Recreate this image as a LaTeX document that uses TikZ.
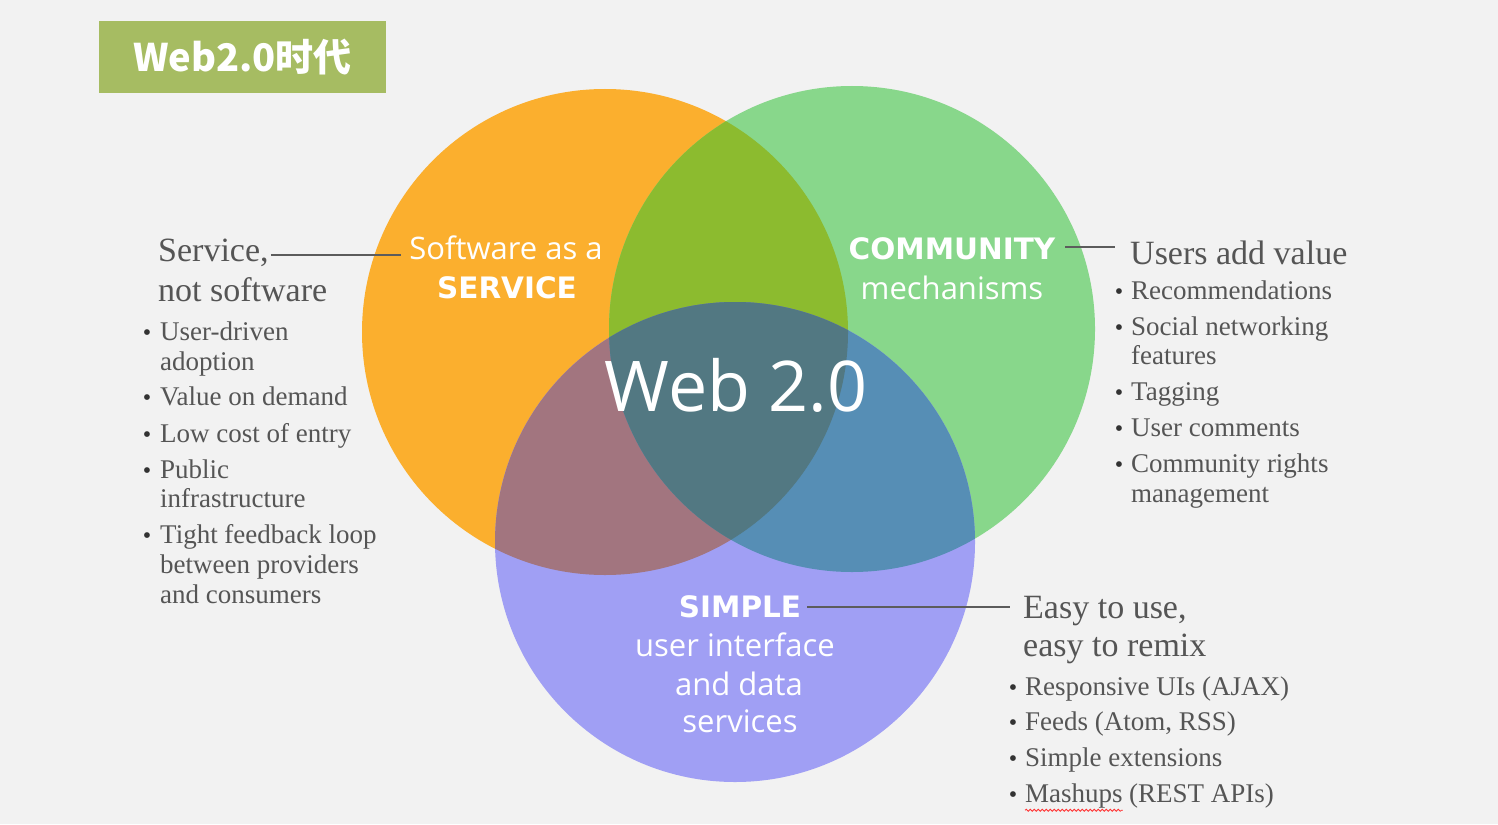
\documentclass[tikz,border=0pt]{standalone}
\usepackage{fontspec}
\setmainfont{Liberation Serif}
\newfontfamily\osans{Open Sans}
\newfontfamily\dsans{DejaVu Sans}
\newfontfamily\cjk{Noto Sans CJK SC}
\usetikzlibrary{decorations.pathmorphing}
\definecolor{bg}{HTML}{F2F2F2}
\definecolor{titlegreen}{HTML}{A6BC62}
\definecolor{corange}{HTML}{FBAF2E}
\definecolor{cgreen}{HTML}{88D78B}
\definecolor{cpurple}{HTML}{A09FF4}
\definecolor{cog}{HTML}{8CBB2F}
\definecolor{cop}{HTML}{A2757F}
\definecolor{cgp}{HTML}{568EB5}
\definecolor{cogp}{HTML}{527882}
\definecolor{txtgray}{HTML}{555555}
\definecolor{bulgray}{HTML}{333333}
\definecolor{linegray}{HTML}{5C5C5C}
\begin{document}
\begin{tikzpicture}[x=1pt,y=-1pt,
  sidehead/.style={anchor=west,inner sep=0pt,text=txtgray,font=\fontsize{34}{34}\selectfont,text height=23pt,text depth=7pt,yshift=-3pt},
  sideitem/.style={anchor=west,inner sep=0pt,text=txtgray,font=\fontsize{27}{27}\selectfont,text height=18pt,text depth=6pt,yshift=-3pt},
  bul/.style={inner sep=0pt,text=bulgray,font=\fontsize{24}{24}\selectfont,yshift=-4pt},
  circreg/.style={inner sep=0pt,text=white,font=\osans\fontsize{31}{31}\selectfont,text height=22pt,text depth=6pt,yshift=-3pt},
  circbold/.style={inner sep=0pt,text=white,font=\dsans\bfseries\fontsize{29.5}{29.5}\selectfont,text height=21pt,text depth=0pt,yshift=-1pt},
  conn/.style={draw=linegray,line width=2pt}]
\useasboundingbox (0,0) rectangle (1498,824);
\fill[bg] (0,0) rectangle (1498,824);

% title
\node[fill=titlegreen,minimum width=287pt,minimum height=72pt,inner sep=0pt,
  text=white,font=\cjk\bfseries\fontsize{38}{38}\selectfont] (title) at (242.5,57.5) {Web2.0时代};

% circles
\coordinate (O) at (605,332);
\coordinate (G) at (852,329);
\coordinate (P) at (735,542);
\fill[corange] (O) circle[radius=243pt];
\fill[cgreen] (G) circle[radius=243pt];
\fill[cpurple] (P) circle[radius=240pt];
\begin{scope}
  \clip (O) circle[radius=243pt];
  \fill[cog] (G) circle[radius=243pt];
  \fill[cop] (P) circle[radius=240pt];
\end{scope}
\begin{scope}
  \clip (G) circle[radius=243pt];
  \fill[cgp] (P) circle[radius=240pt];
\end{scope}
\begin{scope}
  \clip (O) circle[radius=243pt];
  \clip (G) circle[radius=243pt];
  \fill[cogp] (P) circle[radius=240pt];
\end{scope}

% circle labels
\node[circreg] (saas) at (506,248) {Software as a};
\node[circbold] (service) at (507,287) {SERVICE};
\node[circbold] (comm) at (952,248) {COMMUNITY};
\node[circreg] (mech) at (952,288) {mechanisms};
\node[inner sep=0pt,text=white,font=\osans\fontsize{70}{70}\selectfont] (web) at (736,385) {Web 2.0};
\node[circbold] (simple) at (740,606) {SIMPLE};
\node[circreg] (ui) at (735,645) {user interface};
\node[circreg] (data) at (739,684) {and data};
\node[circreg] (svcs) at (740,721) {services};

% left text
\node[sidehead] (serv) at (158,250) {Service,};
\node[sidehead] (notsw) at (158,290) {not software};
\node[bul] (lb1) at (147,331) {•};
\node[sideitem] (l1) at (160,331) {User-driven};
\node[sideitem] (l1b) at (160,361) {adoption};
\node[bul] (lb2) at (147,396) {•};
\node[sideitem] (l2) at (160,396) {Value on demand};
\node[bul] (lb3) at (147,433) {•};
\node[sideitem] (l3) at (160,433) {Low cost of entry};
\node[bul] (lb4) at (147,469) {•};
\node[sideitem] (l4) at (160,469) {Public};
\node[sideitem] (l4b) at (160,498) {infrastructure};
\node[bul] (lb5) at (147,534) {•};
\node[sideitem] (l5) at (160,534) {Tight feedback loop};
\node[sideitem] (l5b) at (160,564) {between providers};
\node[sideitem] (l5c) at (160,594) {and consumers};

% right text
\node[sidehead] (users) at (1130,253) {Users add value};
\node[bul] (rb1) at (1119,290) {•};
\node[sideitem] (r1) at (1131,290) {Recommendations};
\node[bul] (rb2) at (1119,326) {•};
\node[sideitem] (r2) at (1131,326) {Social networking};
\node[sideitem] (r2b) at (1131,355) {features};
\node[bul] (rb3) at (1119,391) {•};
\node[sideitem] (r3) at (1131,391) {Tagging};
\node[bul] (rb4) at (1119,427) {•};
\node[sideitem] (r4) at (1131,427) {User comments};
\node[bul] (rb5) at (1119,463) {•};
\node[sideitem] (r5) at (1131,463) {Community rights};
\node[sideitem] (r5b) at (1131,493) {management};

% bottom right text
\node[sidehead] (easy) at (1023,607) {Easy to use,};
\node[sidehead] (remix) at (1023,645) {easy to remix};
\node[bul] (bb1) at (1013,686) {•};
\node[sideitem] (s1) at (1025,686) {Responsive UIs (AJAX)};
\node[bul] (bb2) at (1013,721) {•};
\node[sideitem] (s2) at (1025,721) {Feeds (Atom, RSS)};
\node[bul] (bb3) at (1013,757) {•};
\node[sideitem] (s3) at (1025,757) {Simple extensions};
\node[bul] (bb4) at (1013,793) {•};
\node[sideitem] (s4) at (1025,793) {Mashups};
\node[sideitem,anchor=base west,yshift=3pt] (s4b) at ([xshift=6pt]s4.base east) {(REST APIs)};
\draw[red!80,line width=0.8pt,decorate,decoration={snake,amplitude=1pt,segment length=4pt}]
  ([yshift=-2pt]s4.south west) -- ([yshift=-2pt]s4.south east);

% connectors
\draw[conn,shorten <=2pt,shorten >=8pt] ([yshift=-2pt]serv.east) -- ([yshift=-2pt]serv.east -| saas.west);
\draw[conn,shorten <=10pt,shorten >=15pt] ([yshift=2pt]comm.east) -- ([yshift=2pt]comm.east -| users.west);
\draw[conn,shorten <=6pt,shorten >=13pt] (simple.east) -- (simple.east -| easy.west);
\end{tikzpicture}
\end{document}
